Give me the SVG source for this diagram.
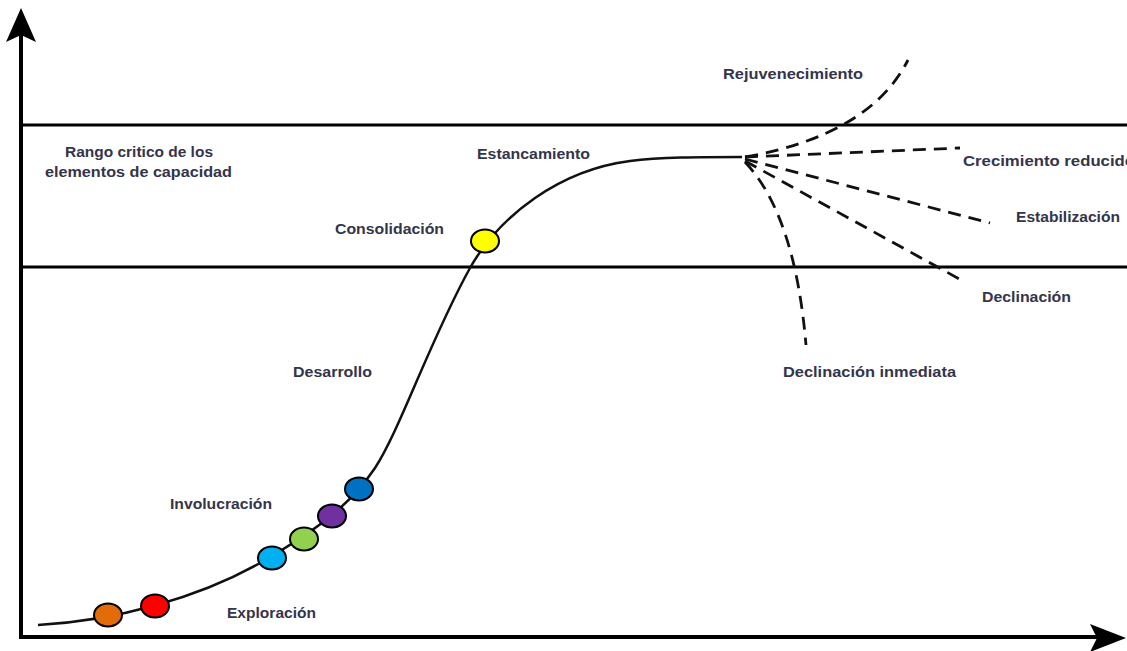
<svg xmlns="http://www.w3.org/2000/svg" width="1127" height="651" viewBox="0 0 1127 651">
<style>
.axis{stroke:#000;stroke-width:4;fill:none}
.band{stroke:#000;stroke-width:3;fill:none}
.curve{stroke:#111;stroke-width:2.5;fill:none}
.dash{stroke:#111;stroke-width:2.8;fill:none;stroke-dasharray:13 8}
.dot{stroke:#000;stroke-width:2}
.lbl{font-family:"Liberation Sans",Arial,sans-serif;font-size:15px;fill:#34344a;font-weight:bold}
</style>
<rect width="1127" height="651" fill="#fff"/>
<g id="axes">
<line class="axis" x1="21" y1="637" x2="21" y2="30"/>
<polygon points="21,8 36,42 21,35 6,42" fill="#000"/>
<line class="axis" x1="19" y1="637" x2="1105" y2="637"/>
<polygon points="1126,638 1090,624 1097,638 1090,652" fill="#000"/>
<line class="band" x1="21" y1="125" x2="1127" y2="125"/>
<line class="band" x1="21" y1="267" x2="1127" y2="267"/>
</g>
<g id="connectors">
<path class="curve" d="M38,625 C110,621 200,600 272,556 C320,527 350,505 375,468 C400,430 430,340 470,268 C500,215 560,170 630,161 C660,157 700,157 742,157"/>
<path class="dash" d="M745,157 Q870,135 908,60"/>
<path class="dash" d="M745,157 L960,148"/>
<path class="dash" d="M745,159 L990,223"/>
<path class="dash" d="M745,161 L963,281"/>
<path class="dash" d="M745,162 Q795,215 806,345"/>
</g>
<g id="dots">
<ellipse class="dot" cx="108" cy="615" rx="14" ry="11.5" fill="#E36C0A"/>
<ellipse class="dot" cx="155" cy="606" rx="14" ry="11.5" fill="#FF0000"/>
<ellipse class="dot" cx="272" cy="558" rx="14" ry="11.5" fill="#00B0F0"/>
<ellipse class="dot" cx="304" cy="539" rx="14" ry="11.5" fill="#92D050"/>
<ellipse class="dot" cx="332" cy="516" rx="14" ry="11.5" fill="#7030A0"/>
<ellipse class="dot" cx="359" cy="489" rx="14" ry="11.5" fill="#0070C0"/>
<ellipse class="dot" cx="485" cy="241" rx="14" ry="11.5" fill="#FFFF00"/>
</g>
<g id="labels">
<text class="lbl" x="65" y="157" textLength="148" lengthAdjust="spacingAndGlyphs">Rango critico de los</text>
<text class="lbl" x="45" y="177" textLength="187" lengthAdjust="spacingAndGlyphs">elementos de capacidad</text>
<text class="lbl" x="477" y="159" textLength="113" lengthAdjust="spacingAndGlyphs">Estancamiento</text>
<text class="lbl" x="335" y="234" textLength="109" lengthAdjust="spacingAndGlyphs">Consolidación</text>
<text class="lbl" x="293" y="377" textLength="79" lengthAdjust="spacingAndGlyphs">Desarrollo</text>
<text class="lbl" x="170" y="509" textLength="102" lengthAdjust="spacingAndGlyphs">Involucración</text>
<text class="lbl" x="227" y="618" textLength="89" lengthAdjust="spacingAndGlyphs">Exploración</text>
<text class="lbl" x="723" y="79" textLength="140" lengthAdjust="spacingAndGlyphs">Rejuvenecimiento</text>
<text class="lbl" x="963" y="166" textLength="172" lengthAdjust="spacingAndGlyphs">Crecimiento reducido</text>
<text class="lbl" x="1016" y="222" textLength="104" lengthAdjust="spacingAndGlyphs">Estabilización</text>
<text class="lbl" x="982" y="302" textLength="89" lengthAdjust="spacingAndGlyphs">Declinación</text>
<text class="lbl" x="783" y="377" textLength="173" lengthAdjust="spacingAndGlyphs">Declinación inmediata</text>
</g>
</svg>
